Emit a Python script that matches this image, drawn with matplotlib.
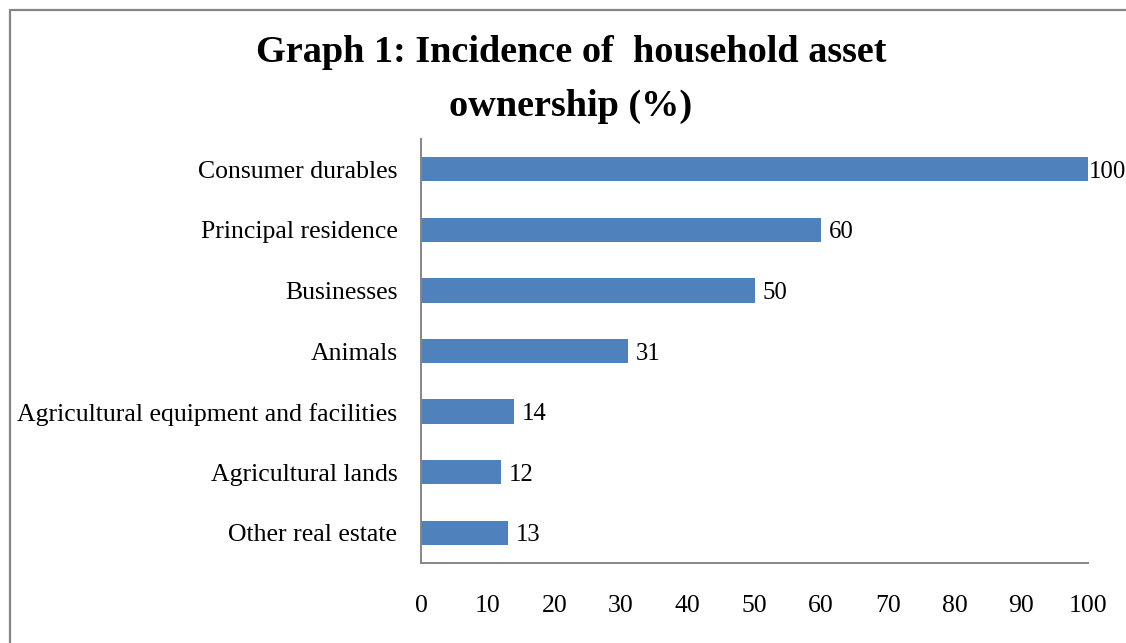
import matplotlib
matplotlib.use('Agg')
import matplotlib.pyplot as plt
from matplotlib.patches import Rectangle

# Incidence of household asset ownership (%), top to bottom as listed
categories = [
    "Consumer durables",
    "Principal residence",
    "Businesses",
    "Animals",
    "Agricultural equipment and facilities",
    "Agricultural lands",
    "Other real estate",
]
values = [100, 60, 50, 31, 14, 12, 13]
x_ticks = list(range(0, 101, 10))

bar_color = "#4F81BD"
axis_gray = "#868686"

plt.rcParams['font.family'] = ['Liberation Serif', 'DejaVu Serif']

fig = plt.figure(figsize=(11.26, 6.43), dpi=100)
ax = fig.add_axes([0.3739, 0.1244, 0.5924, 0.6594])

ypos = list(range(len(categories)))[::-1]
bars = ax.barh(ypos, values, height=0.4, color=bar_color)

# value labels just past each bar end; the full-length bar gets a tighter gap
for y, v in zip(ypos, values):
    gap = 0.8 if v >= 100 else 5.5
    ax.annotate(str(v), xy=(v, y), xytext=(gap, 0), textcoords='offset points',
                ha='left', va='center_baseline', fontsize=17.8)

ax.set_ylim(-0.5, len(categories) - 0.5)
ax.set_xlim(0, 100)
ax.set_yticks(ypos)
ax.set_yticklabels(categories)
ax.set_xticks(x_ticks)

ax.tick_params(axis='both', length=0, labelsize=18.5)
ax.tick_params(axis='x', pad=23)
ax.tick_params(axis='y', pad=17)

for side in ['top', 'right']:
    ax.spines[side].set_visible(False)
for side in ['left', 'bottom']:
    ax.spines[side].set_color(axis_gray)
    ax.spines[side].set_linewidth(1.4)

fig.text(0.507, 0.876, "Graph 1: Incidence of  household asset\nownership (%)",
         ha='center', va='center', multialignment='center',
         fontsize=27.5, fontweight='bold', linespacing=1.68)

# chart frame, running past the right and bottom edges
frame = Rectangle((9.5 / 1126, -0.2), 1.2, 1.2 - 9.5 / 643,
                  transform=fig.transFigure, fill=False,
                  edgecolor=axis_gray, linewidth=1.6)
fig.patches.append(frame)

fig.savefig("out.png", dpi=100)
